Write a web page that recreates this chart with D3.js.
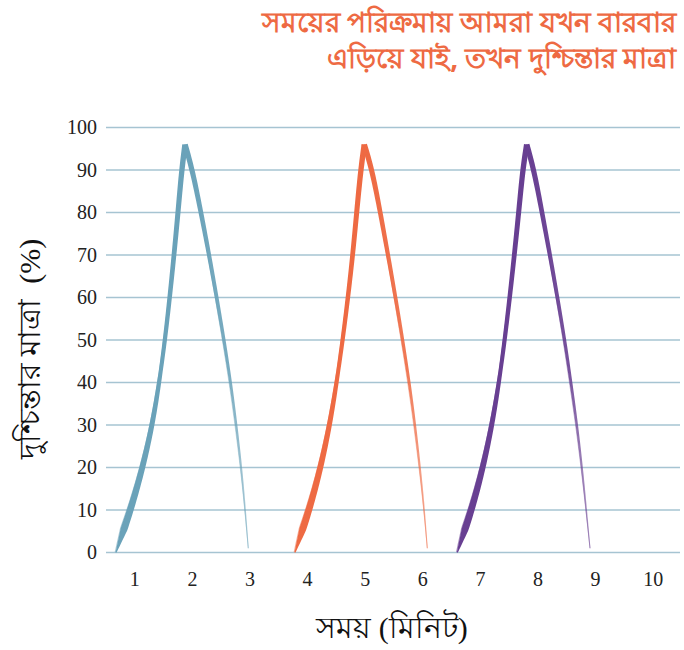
<!DOCTYPE html>
<html>
<head>
<meta charset="utf-8">
<script src="https://cdn.jsdelivr.net/npm/d3@7"></script>
<style>
  body { margin: 0; background: #fff; }
  .tick-label { font-family: "Liberation Serif", "DejaVu Serif", serif; font-size: 20px; fill: #222; }
  .axis-title { font-family: "Liberation Serif", "Noto Sans", serif; font-size: 30px; fill: #111; white-space: pre; }
  .title { font-family: "Noto Sans", "DejaVu Sans", sans-serif; font-size: 28px; font-weight: bold; fill: #ee6a43; }
</style>
</head>
<body>
<div id="chart"></div>
<script>
const titleLines = ['সময়ের পরিক্রমায় আমরা যখন বারবার', 'এড়িয়ে যাই, তখন দুশ্চিন্তার মাত্রা'];
const xTitle = 'সময় (মিনিট)';
const yTitle = 'দুশ্চিন্তার মাত্রা  (%)';
const xTicks = [1, 2, 3, 4, 5, 6, 7, 8, 9, 10];
const yTicks = [0, 10, 20, 30, 40, 50, 60, 70, 80, 90, 100];

// three episodes: rise to the peak, then fall back (time in minutes, level in %)
const blueRiseTime = [0.674, 0.929, 1.137, 1.304, 1.425, 1.524, 1.606, 1.681, 1.75, 1.814, 1.872];
const blueRiseLevel = [0, 10, 20, 30, 40, 50, 60, 70, 80, 90, 96];
const blueFallTime = [1.872, 2.0, 2.149, 2.29, 2.422, 2.549, 2.665, 2.762, 2.849, 2.918, 2.97];
const blueFallLevel = [96, 90, 80, 70, 60, 50, 40, 30, 20, 10, 1];

const orangeRiseTime = [3.781, 4.03, 4.227, 4.383, 4.505, 4.609, 4.701, 4.783, 4.852, 4.922, 4.984];
const orangeRiseLevel = [0, 10, 20, 30, 40, 50, 60, 70, 80, 90, 96];
const orangeFallTime = [4.984, 5.12, 5.262, 5.396, 5.527, 5.651, 5.766, 5.865, 5.951, 6.026, 6.078];
const orangeFallLevel = [96, 90, 80, 70, 60, 50, 40, 30, 20, 10, 1];

const purpleRiseTime = [6.599, 6.849, 7.045, 7.201, 7.323, 7.422, 7.509, 7.589, 7.665, 7.734, 7.804];
const purpleRiseLevel = [0, 10, 20, 30, 40, 50, 60, 70, 80, 90, 96];
const purpleFallTime = [7.804, 7.93, 8.07, 8.207, 8.338, 8.464, 8.573, 8.677, 8.764, 8.839, 8.903];
const purpleFallLevel = [96, 90, 80, 70, 60, 50, 40, 30, 20, 10, 1];

const episodes = [
    {color: '#6aa2b9', rise: [blueRiseTime, blueRiseLevel], fall: [blueFallTime, blueFallLevel]},
    {color: '#ee6a43', rise: [orangeRiseTime, orangeRiseLevel], fall: [orangeFallTime, orangeFallLevel]},
    {color: '#683f92', rise: [purpleRiseTime, purpleRiseLevel], fall: [purpleFallTime, purpleFallLevel]}
];

const W = 684, H = 650;
const svg = d3.select('#chart').append('svg')
    .attr('width', W)
    .attr('height', H);

const x = d3.scaleLinear().domain([0.5, 10.5]).range([106, 682]);
const y = d3.scaleLinear().domain([0, 100]).range([552.5, 127.5]);

// title
svg.append('text')
    .attr('class', 'title')
    .attr('text-anchor', 'end')
    .selectAll('tspan')
    .data(titleLines)
    .enter()
    .append('tspan')
    .attr('x', 676)
    .attr('y', (d, i) => 32 + i * 36)
    .text(d => d);

// grid
svg.append('g')
    .selectAll('line')
    .data(yTicks)
    .enter()
    .append('line')
    .attr('x1', x.range()[0])
    .attr('x2', 680)
    .attr('y1', d => y(d))
    .attr('y2', d => y(d))
    .attr('stroke', '#a6c4d2')
    .attr('stroke-width', 1.3);

svg.append('g')
    .selectAll('text')
    .data(yTicks)
    .enter()
    .append('text')
    .attr('class', 'tick-label')
    .attr('x', 97)
    .attr('y', d => y(d))
    .attr('dy', '0.34em')
    .attr('text-anchor', 'end')
    .text(d => d);

svg.append('g')
    .selectAll('text')
    .data(xTicks)
    .enter()
    .append('text')
    .attr('class', 'tick-label')
    .attr('x', d => x(d))
    .attr('y', 586)
    .attr('text-anchor', 'middle')
    .text(d => d);

svg.append('text')
    .attr('class', 'axis-title')
    .attr('text-anchor', 'middle')
    .attr('x', 392)
    .attr('y', 638)
    .text(xTitle);

svg.append('text')
    .attr('class', 'axis-title')
    .attr('text-anchor', 'middle')
    .attr('transform', 'translate(40,349) rotate(-90)')
    .text(yTitle);

// sample a smooth curve through the points in pixel space
function samplePath(times, levels, n) {
    const pts = times.map((t, i) => [x(t), y(levels[i])]);
    const tmp = svg.append('path')
        .attr('d', d3.line().curve(d3.curveBasis)(pts))
        .attr('fill', 'none');
    const node = tmp.node();
    const len = node.getTotalLength();
    const out = [];
    for (let i = 0; i <= n; i++) {
        const p = node.getPointAtLength(len * i / n);
        out.push([p.x, p.y]);
    }
    tmp.remove();
    return out;
}

// variable-width brush ribbon around sampled points
function ribbon(pts, widthAt, shift) {
    const left = [], right = [];
    pts.forEach((p, i) => {
        const a = pts[Math.max(i - 1, 0)];
        const b = pts[Math.min(i + 1, pts.length - 1)];
        const dx = b[0] - a[0], dy = b[1] - a[1];
        const len = Math.hypot(dx, dy) || 1;
        const nx = -dy / len, ny = dx / len;
        const f = i / (pts.length - 1);
        const w = widthAt(f) / 2;
        const s = shift ? shift(f) : 0;
        left.push([p[0] + nx * (w + s), p[1] + ny * (w + s)]);
        right.push([p[0] - nx * (w - s), p[1] - ny * (w - s)]);
    });
    return left.concat(right.reverse());
}

const lerp = (a, b, t) => a + (b - a) * t;
const riseWidth = f => f < 0.06 ? lerp(1, 7, f / 0.06)
    : f < 0.45 ? lerp(7, 4, (f - 0.06) / 0.39)
    : lerp(4, 5.5, (f - 0.45) / 0.55);
const fallWidth = f => f < 0.5 ? lerp(5.5, 3.2, f / 0.5) : lerp(3.2, 1, (f - 0.5) / 0.5);

const poly = d3.line();
const defs = svg.append('defs');

episodes.forEach((ep, k) => {
    const g = svg.append('g');
    const rise = samplePath(ep.rise[0], ep.rise[1], 120);
    const fall = samplePath(ep.fall[0], ep.fall[1], 120);

    const grad = defs.append('linearGradient')
        .attr('id', 'fade' + k)
        .attr('gradientUnits', 'userSpaceOnUse')
        .attr('x1', 0).attr('x2', 0)
        .attr('y1', y(96)).attr('y2', y(0));
    grad.append('stop').attr('offset', '0%').attr('stop-color', ep.color).attr('stop-opacity', 1);
    grad.append('stop').attr('offset', '55%').attr('stop-color', ep.color).attr('stop-opacity', 0.9);
    grad.append('stop').attr('offset', '100%').attr('stop-color', ep.color).attr('stop-opacity', 0.45);

    g.append('path')
        .attr('d', poly(ribbon(fall, fallWidth)) + 'Z')
        .attr('fill', 'url(#fade' + k + ')');
    // a thin loose strand along the falling side
    g.append('path')
        .attr('d', poly(ribbon(fall, f => 0.9, f => 1.6 * Math.sin(Math.PI * f))) + 'Z')
        .attr('fill', ep.color)
        .attr('opacity', 0.4);

    g.append('path')
        .attr('d', poly(ribbon(rise, riseWidth)) + 'Z')
        .attr('fill', ep.color);
    // brush strands on the rising side
    g.append('path')
        .attr('d', poly(ribbon(rise, f => 1.2, f => -(riseWidth(f) / 2 + 0.3) * (1 - f))) + 'Z')
        .attr('fill', ep.color)
        .attr('opacity', 0.55);
});
</script>
</body>
</html>
